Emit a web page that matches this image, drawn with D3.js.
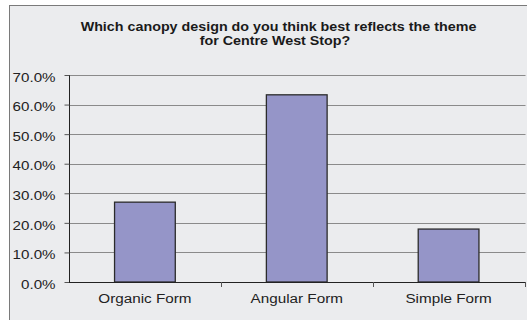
<!DOCTYPE html>
<html><head><meta charset="utf-8">
<script src="https://cdn.jsdelivr.net/npm/d3@7"></script>
<style>body{margin:0;background:#fff}svg{display:block}</style>
</head><body><svg id="c" width="527" height="320"></svg>
<script>
const categories = ["Organic Form", "Angular Form", "Simple Form"];
const values = [27.0, 63.3, 17.9];
const yTicks = [0, 10, 20, 30, 40, 50, 60, 70];
const titleLines = ["Which canopy design do you think best reflects the theme", "for Centre West Stop?"];

const svg = d3.select("#c");
const font = "Liberation Sans, Arial, sans-serif";
function stretch(sel, k) {
  sel.each(function () {
    const w = this.getComputedTextLength();
    d3.select(this).attr("textLength", w * k).attr("lengthAdjust", "spacingAndGlyphs");
  });
}
svg.append("rect").attr("x", 9.5).attr("y", 5.5).attr("width", 530).attr("height", 330)
  .attr("fill", "#ebecee").attr("stroke", "#7a7a7a").attr("stroke-width", 1);

const L = 69, R = 524.5, T = 75, B = 282;
const x = d3.scaleBand().domain(categories).range([L, R]).paddingInner(0.6).paddingOuter(0.3);
const y = d3.scaleLinear().domain([0, 70]).range([B, T]);

// gridlines
svg.append("g").selectAll("line").data(yTicks.filter(d => d > 0)).join("line")
  .attr("x1", L).attr("x2", R + 1).attr("y1", d => Math.round(y(d)) + 0.5).attr("y2", d => Math.round(y(d)) + 0.5)
  .attr("stroke", "#8a8a8a").attr("stroke-width", 1);

// bars
svg.append("g").selectAll("rect").data(values).join("rect")
  .attr("x", (d, i) => x(categories[i])).attr("width", x.bandwidth())
  .attr("y", d => y(d)).attr("height", d => y(0) - y(d))
  .attr("fill", "#9595c8").attr("stroke", "#2b2b2b").attr("stroke-width", 1.3);

// y axis
const ya = svg.append("g").attr("transform", `translate(${L + 0.5},0)`)
  .call(d3.axisLeft(y).tickValues(yTicks).tickFormat(d => d.toFixed(1) + "%").tickSize(5).tickPadding(9));
ya.select(".domain").attr("stroke", "#222").attr("d", `M0,${T}V${B}`);
ya.selectAll(".tick line").attr("stroke", "#555");
ya.selectAll("text").attr("font-family", font).attr("font-size", 12.3).attr("fill", "#222").attr("dy", "0.5em");
stretch(ya.selectAll("text"), 1.23);

// x axis
const xa = svg.append("g").attr("transform", `translate(0,${B + 0.5})`)
  .call(d3.axisBottom(x).tickSize(0).tickPadding(12));
xa.select(".domain").attr("stroke", "#222").attr("d", `M${L},0H${R + 1}`);
xa.selectAll("text").attr("font-family", font).attr("font-size", 12.5).attr("fill", "#222");
stretch(xa.selectAll("text"), 1.22);
// category boundary ticks
const bounds = [1, 2, 3].map(i => L + i * x.step());
svg.append("g").selectAll("line").data(bounds).join("line")
  .attr("x1", d => Math.round(d) + 0.5).attr("x2", d => Math.round(d) + 0.5)
  .attr("y1", B).attr("y2", B + 5).attr("stroke", "#555");

// title
const tt = svg.append("g").selectAll("text").data(titleLines).join("text")
  .attr("x", (d, i) => i === 0 ? 278.5 : 275).attr("y", (d, i) => 31 + i * 13.5).attr("text-anchor", "middle")
  .attr("font-family", font).attr("font-weight", "bold").attr("font-size", 13)
  .attr("fill", "#1a1a1a").text(d => d);
stretch(tt, 1.1);
</script></body></html>
